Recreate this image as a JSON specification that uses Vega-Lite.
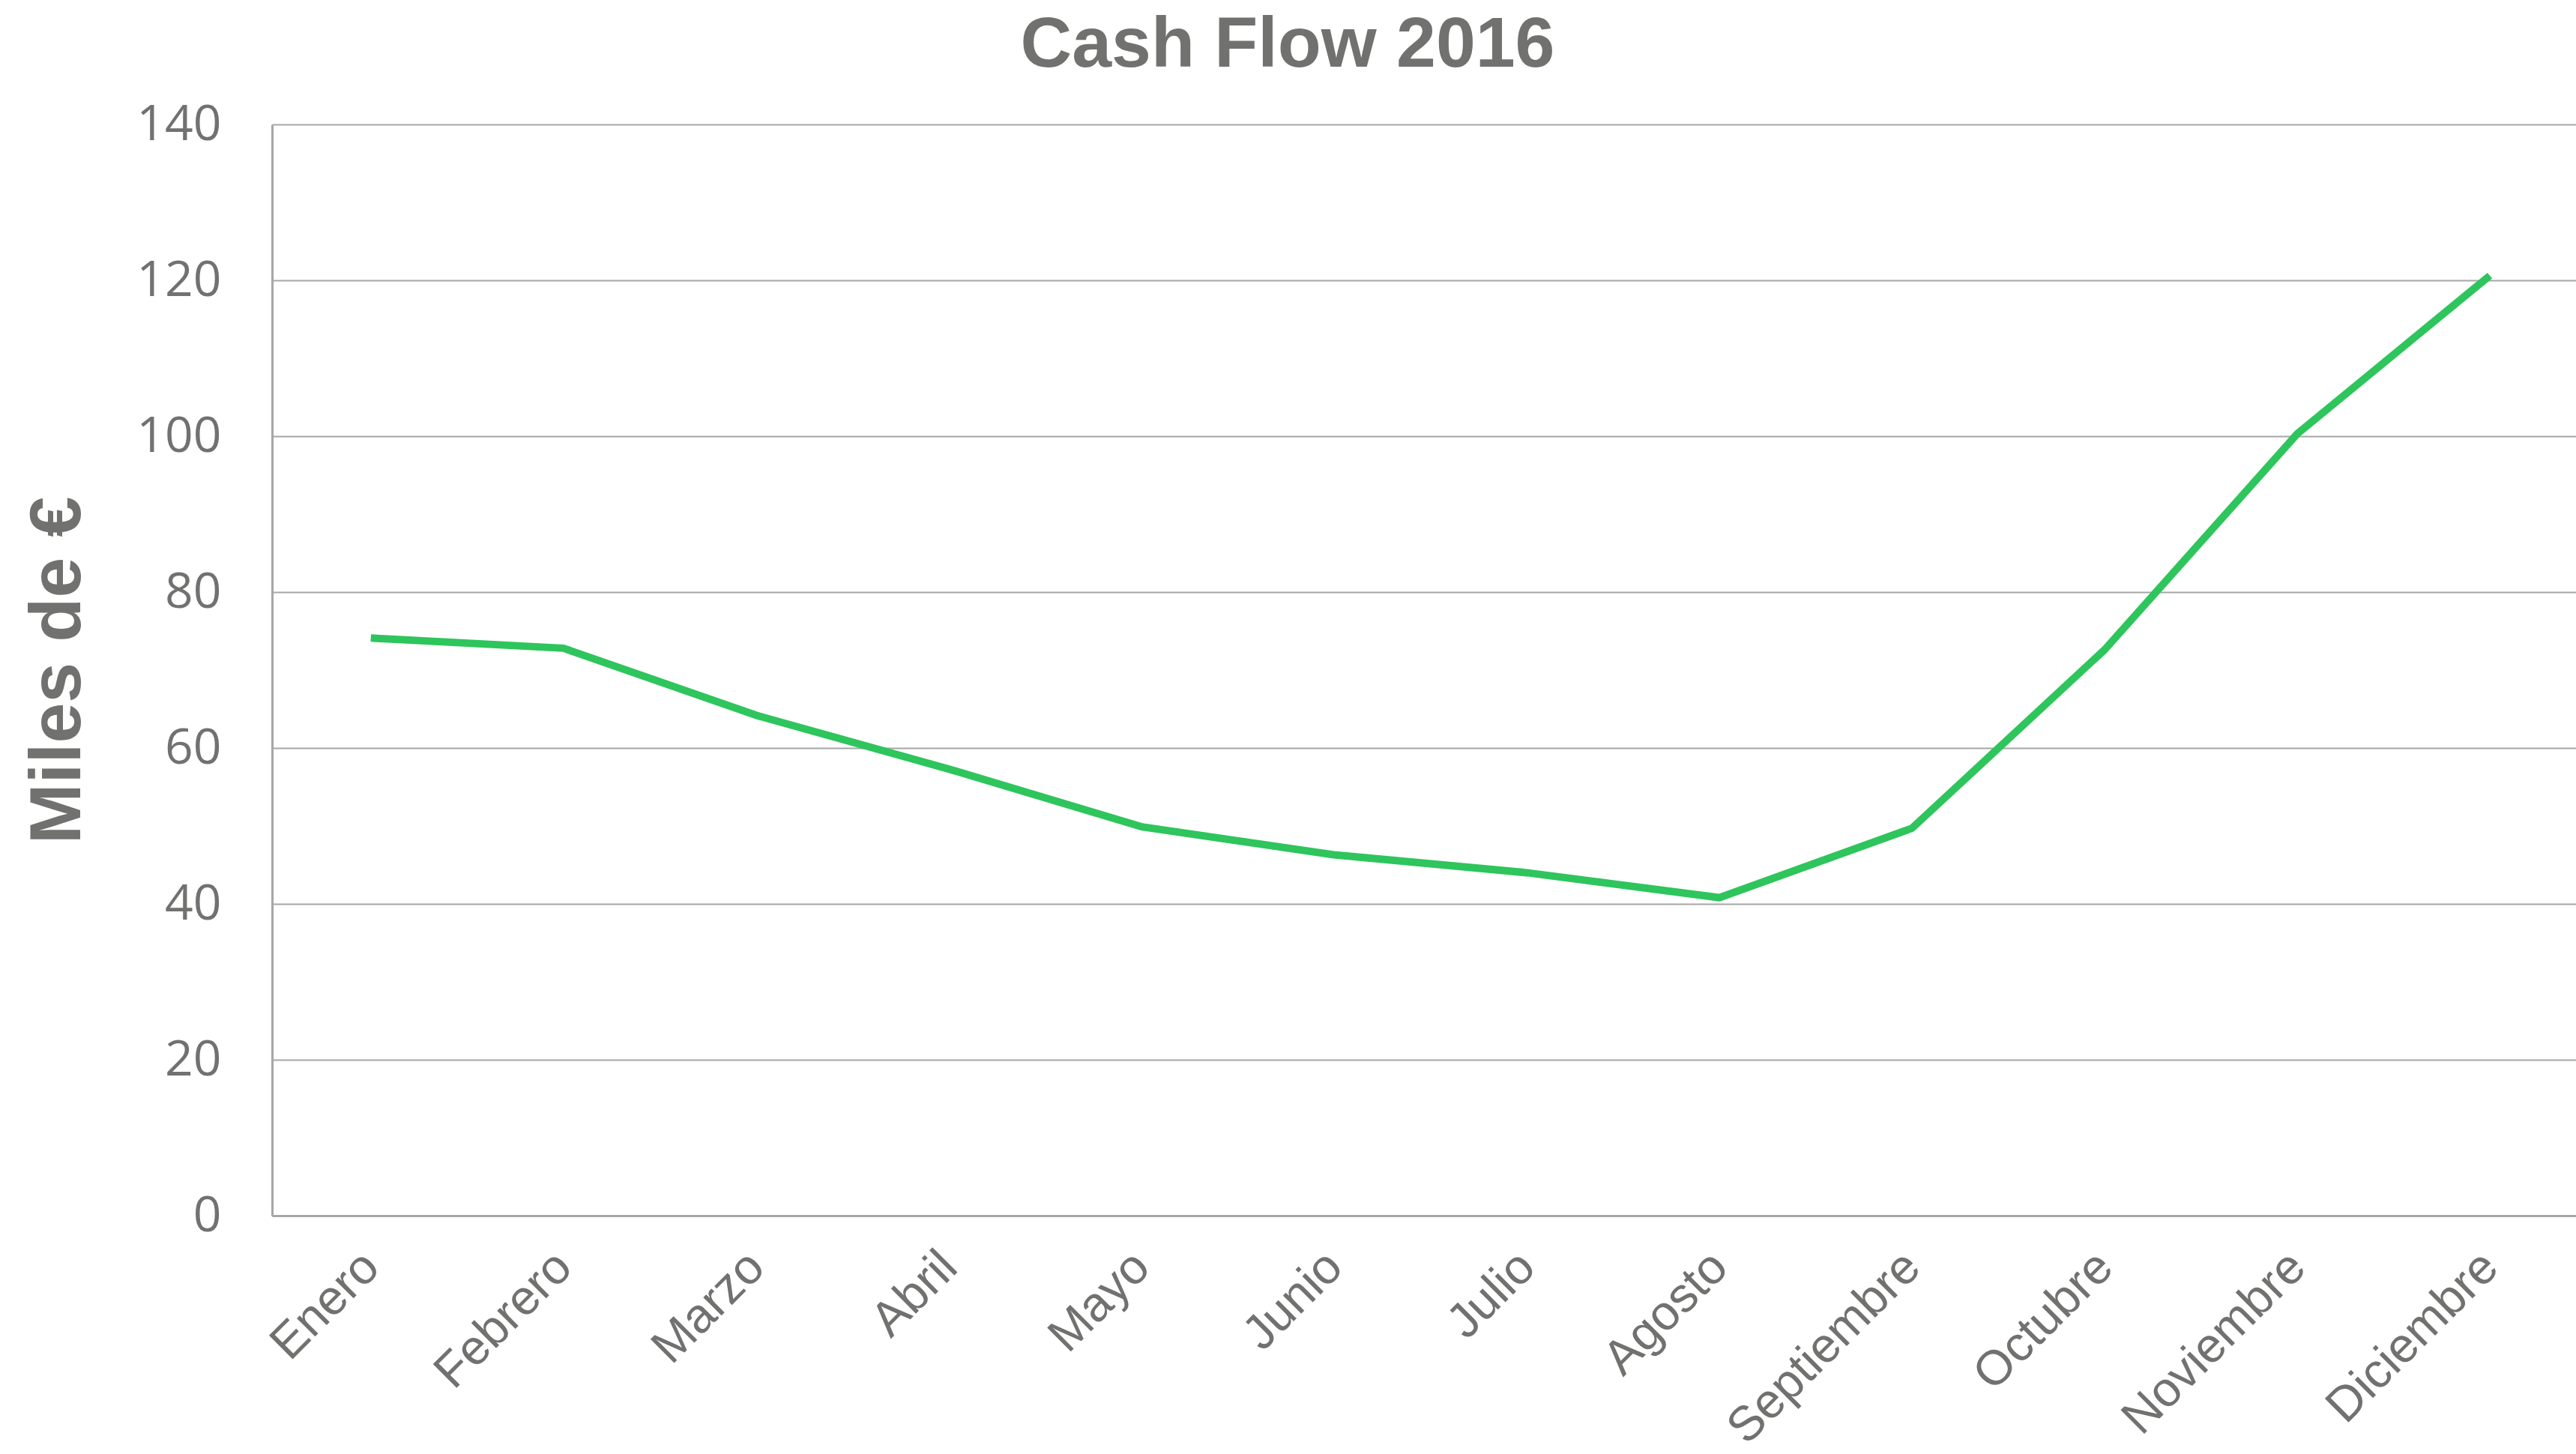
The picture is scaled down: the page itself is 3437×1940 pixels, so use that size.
{
  "$schema": "https://vega.github.io/schema/vega-lite/v6.json",
  "autosize": "none",
  "padding": {"left": 363, "top": 166, "right": 0, "bottom": 318},
  "width": 3074,
  "height": 1456,
  "background": "white",
  "title": {
    "text": "Cash Flow 2016",
    "font": "Liberation Sans",
    "fontSize": 95,
    "fontWeight": "bold",
    "color": "#717270",
    "anchor": "middle",
    "dx": -182,
    "offset": 24
  },
  "config": {
    "view": {"stroke": null},
    "axis": {
      "labelColor": "#717270",
      "titleColor": "#717270",
      "domainColor": "#a6a6a6",
      "gridColor": "#a6a6a6"
    }
  },
  "data": {
    "values": [
      {"mes": "Enero", "valor": 74.1},
      {"mes": "Febrero", "valor": 72.8},
      {"mes": "Marzo", "valor": 64.2},
      {"mes": "Abril", "valor": 57.3},
      {"mes": "Mayo", "valor": 49.9},
      {"mes": "Junio", "valor": 46.3},
      {"mes": "Julio", "valor": 44.0},
      {"mes": "Agosto", "valor": 40.8},
      {"mes": "Septiembre", "valor": 49.7},
      {"mes": "Octubre", "valor": 72.6},
      {"mes": "Noviembre", "valor": 100.3},
      {"mes": "Diciembre", "valor": 120.6}
    ]
  },
  "mark": {"type": "line", "color": "#2ec55c", "strokeWidth": 10, "strokeJoin": "round"},
  "encoding": {
    "x": {
      "field": "mes",
      "type": "nominal",
      "sort": null,
      "scale": {"type": "point", "padding": 0.48, "align": 0.534},
      "axis": {
        "title": null,
        "labelAngle": -45,
        "labelFont": "Liberation Sans",
        "labelFontSize": 65,
        "labelPadding": 36,
        "labelOffset": -22,
        "labelLimit": 0,
        "ticks": false,
        "tickSize": 0,
        "domain": true,
        "domainWidth": 3,
        "grid": false,
        "labelOverlap": false
      }
    },
    "y": {
      "field": "valor",
      "type": "quantitative",
      "scale": {"domain": [0, 140], "nice": false},
      "axis": {
        "title": "Miles de €",
        "titleFont": "Liberation Sans",
        "titleFontSize": 97,
        "titleFontWeight": "bold",
        "titlePadding": 55,
        "values": [0, 20, 40, 60, 80, 100, 120, 140],
        "labelFont": "Open Sans",
        "labelFontSize": 66,
        "labelPadding": 68,
        "ticks": false,
        "tickSize": 0,
        "domain": true,
        "domainWidth": 3,
        "grid": true,
        "gridWidth": 2
      }
    }
  }
}
